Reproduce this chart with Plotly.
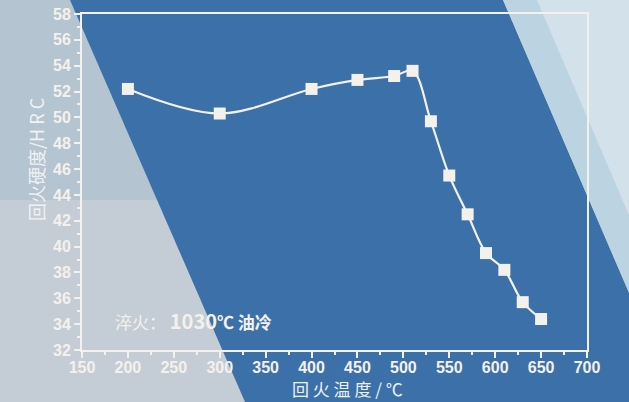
import plotly.graph_objects as go

# Data
temper_temp = [200, 300, 400, 450, 490, 510, 530, 550, 570, 590, 610, 630, 650]
hardness_hrc = [52.2, 50.3, 52.2, 52.9, 53.2, 53.6, 49.7, 45.5, 42.5, 39.5, 38.2, 35.7, 34.4]
x_ticks = [150, 200, 250, 300, 350, 400, 450, 500, 550, 600, 650, 700]
y_ticks = [32, 34, 36, 38, 40, 42, 44, 46, 48, 50, 52, 54, 56, 58]

W, H = 629, 402
L, R, T, B = 82, 42, 14, 52
pw, ph = W - L - R, H - T - B

def px(x):
    return (x - L) / pw

def py(y):
    return (H - B - y) / ph

def poly(pts):
    d = "M " + " L ".join(f"{px(a):.4f},{py(b):.4f}" for a, b in pts) + " Z"
    return d

WHITE = "#f4f1ec"

fig = go.Figure()
fig.add_trace(go.Scatter(
    x=temper_temp, y=hardness_hrc, mode="lines+markers",
    line=dict(color=WHITE, width=2.2, shape="spline", smoothing=1.0),
    marker=dict(symbol="square", size=12, color=WHITE, line=dict(width=0)),
    cliponaxis=False, showlegend=False,
))

shapes = [
    # left greyish panel with slight gradient (darker top)
    dict(type="path", path=poly([(0, 0), (70, 0), (160, 200), (0, 200)]),
         fillcolor="#b4c4d0", line_width=0, layer="below", xref="paper", yref="paper"),
    # blue band
    dict(type="path", path=poly([(70, 0), (503, 0), (676, 402), (245, 402)]),
         fillcolor="#3c70a8", line_width=0, layer="below", xref="paper", yref="paper"),
    # right light band
    dict(type="path", path=poly([(503, 0), (629, 0), (629, 402), (676, 402)]),
         fillcolor="#bcd4e2", line_width=0, layer="below", xref="paper", yref="paper"),
    dict(type="path", path=poly([(537, 0), (629, 0), (629, 215)]),
         fillcolor="#d3e1ea", line_width=0, layer="below", xref="paper", yref="paper"),
]

axis_common = dict(
    showgrid=False, zeroline=False, showline=True, linecolor=WHITE, linewidth=2,
    mirror=True, ticks="outside", ticklen=6, tickwidth=2, tickcolor=WHITE,
    tickfont=dict(family="Liberation Sans, Arial", size=16, color=WHITE, weight="bold"),
)

fig.update_layout(
    width=W, height=H,
    margin=dict(l=L, r=R, t=T, b=B, autoexpand=False),
    paper_bgcolor="#c4cdd6",
    plot_bgcolor="rgba(0,0,0,0)",
    shapes=shapes,
    xaxis=dict(range=[150, 700], tickvals=x_ticks, automargin=False, ticklabelstandoff=-4,
               minor=dict(dtick=25, ticks="outside", ticklen=3, tickwidth=2, tickcolor=WHITE),
               **axis_common),
    yaxis=dict(range=[32, 58], tickvals=y_ticks, automargin=False,
               minor=dict(dtick=1, ticks="outside", ticklen=3, tickwidth=2, tickcolor=WHITE),
               **axis_common),
    annotations=[
        dict(text="回火硬度/H R C", textangle=-90, xref="paper", yref="paper",
             x=px(36), y=py(160), xanchor="center", yanchor="middle", showarrow=False,
             font=dict(family="Noto Sans CJK SC", size=18, color="#f0f2f4")),
        dict(text="回 火 温 度 / ℃", xref="paper", yref="paper",
             x=px(347), y=py(388), xanchor="center", yanchor="middle", showarrow=False,
             font=dict(family="Noto Sans CJK SC", size=17, color="#eef1f3")),
        dict(text="淬火： <b><span style='font-size:20px'>1030</span>℃ 油冷</b>",
             xref="x", yref="y",
             x=184, y=34.3, xanchor="left", yanchor="middle", showarrow=False,
             font=dict(family="Noto Sans CJK SC", size=17, color=WHITE)),
    ],
)

fig.write_html("out.html", config={"displayModeBar": False},
               post_script="document.body.style.margin='0';")
